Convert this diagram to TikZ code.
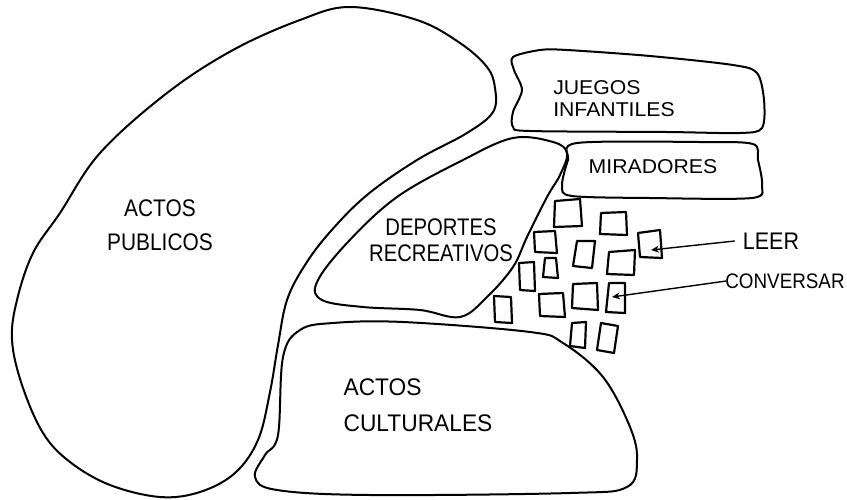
\documentclass[tikz,border=0pt]{standalone}
\usepackage{fontspec}
\setmainfont{Liberation Sans}
\usepackage{tikz}
\usetikzlibrary{arrows.meta,positioning}

\begin{document}
\begin{tikzpicture}[x=1pt,y=-1pt,
    zona/.style={line width=2pt, line join=round},
    mesa/.style={line width=2.2pt, line join=round},
    rotulo/.style={font=\fontsize{24}{26}\selectfont, align=center, inner sep=0pt, xscale=0.87},
    rotulochico/.style={rotulo, font=\fontsize{20}{22}\selectfont, align=left, xscale=1.22},
    flecha/.style={line width=1.4pt, -{Stealth[length=8pt,width=7pt]}}]
    \useasboundingbox (0,0) rectangle (847,499);

    \draw[zona] plot[smooth cycle, tension=0.6] coordinates {(350,7) (417,20) (460,43) (487,67) (495,88) (493,112) (467,133) (417,160) (367,195) (330,232) (305,265) (287,300) (278,345) (270,392) (258,440) (235,473) (200,492) (160,497) (110,485) (70,462) (43,433) (22,385) (12,340) (17,300) (33,253) (60,213) (100,153) (167,93) (233,50) (300,20)};
    \draw[zona] plot[smooth cycle, tension=0.5] coordinates {(513,57) (540,50) (567,50) (650,56) (733,65) (757,73) (764,100) (762,128) (740,133) (667,132) (530,131) (513,127) (513,112) (522,90) (514,70)};
    \draw[zona] plot[smooth cycle, tension=0.5] coordinates {(577,143) (700,142) (753,144) (758,160) (762,185) (752,198) (650,198) (572,196) (562,186) (568,160)};
    \draw[zona] plot[smooth cycle, tension=0.6] coordinates {(513,138) (553,142) (567,153) (560,175) (547,197) (527,237) (513,267) (487,297) (460,317) (420,310) (363,307) (322,300) (317,282) (347,243) (397,197) (463,160)};
    \draw[zona] plot[smooth cycle, tension=0.6] coordinates {(333,323) (403,322) (530,332) (563,343) (603,377) (630,427) (637,460) (627,487) (570,493) (370,495) (277,490) (255,477) (265,455) (278,435) (283,357) (300,330)};

    \node[rotulo] (publicos) at (160,225) {ACTOS\\[8pt]PUBLICOS};
    \node[rotulo, xscale=0.97] (deportes) at (441,240) {DEPORTES\\RECREATIVOS};
    \node[rotulochico] (juegos) at (614,99) {JUEGOS\\INFANTILES};
    \node[rotulochico] (miradores) at (653,167) {MIRADORES};
    \node[rotulo, align=left, xscale=1.09] (culturales) at (418,405) {ACTOS\\[10pt]CULTURALES};
    \node[rotulo, xscale=1.03] (leer) at (771,241) {LEER};
    \node[rotulo, font=\fontsize{21}{23}\selectfont, xscale=1.03] (conversar) at (785,281) {CONVERSAR};

    \draw[mesa] (555,201) -- (580,199) -- (582,226) -- (554,227) -- cycle;
    \draw[mesa] (601,213) -- (626,212) -- (627,235) -- (600,234) -- cycle;
    \draw[mesa] (534,232) -- (555,231) -- (557,253) -- (535,252) -- cycle;
    \draw[mesa] (577,241) -- (595,241) -- (592,268) -- (573,266) -- cycle;
    \draw[mesa] (638,233) -- (660,230) -- (662,258) -- (640,257) -- cycle;
    \draw[mesa] (609,252) -- (635,250) -- (634,275) -- (607,274) -- cycle;
    \draw[mesa] (545,258) -- (556,258) -- (558,278) -- (543,277) -- cycle;
    \draw[mesa] (519,263) -- (534,262) -- (535,291) -- (520,290) -- cycle;
    \draw[mesa] (573,284) -- (597,283) -- (598,310) -- (572,308) -- cycle;
    \draw[mesa] (609,283) -- (625,283) -- (625,313) -- (606,312) -- cycle;
    \draw[mesa] (539,294) -- (563,293) -- (565,317) -- (540,316) -- cycle;
    \draw[mesa] (494,296) -- (511,297) -- (512,323) -- (495,322) -- cycle;
    \draw[mesa] (572,323) -- (586,322) -- (585,348) -- (570,346) -- cycle;
    \draw[mesa] (601,323) -- (618,326) -- (614,353) -- (597,350) -- cycle;

    \coordinate (mesaleer) at (651,250);
    \coordinate (mesaconversar) at (612,297);
    \draw[flecha] ([xshift=-8pt]leer.west) -- (mesaleer);
    \draw[flecha] ([xshift=1pt]conversar.west) -- (mesaconversar);
\end{tikzpicture}
\end{document}
